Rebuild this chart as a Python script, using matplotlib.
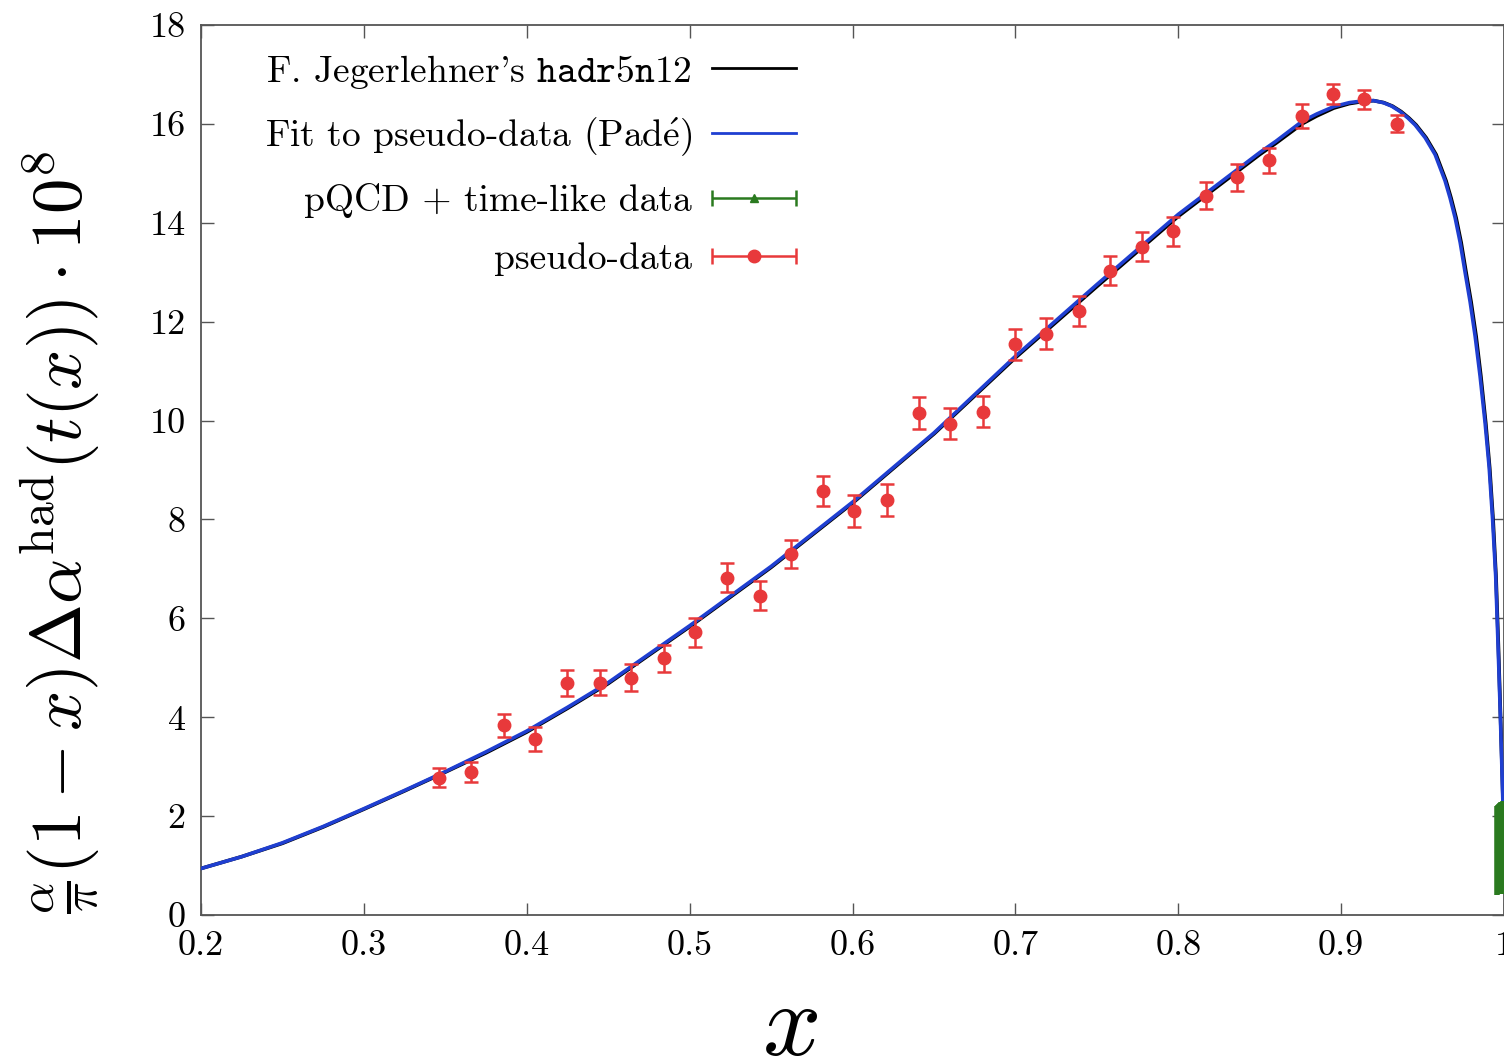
import numpy as np
import matplotlib
matplotlib.use('Agg')
import matplotlib.pyplot as plt
from matplotlib.ticker import FuncFormatter
from matplotlib.lines import Line2D
from matplotlib.collections import LineCollection
from matplotlib.container import ErrorbarContainer
from matplotlib.legend_handler import HandlerErrorbar

################################################
# fonts: computer modern look
plt.rcParams['font.family'] = ['cmr10', 'DejaVu Serif']
plt.rcParams['mathtext.fontset'] = 'cm'
plt.rcParams['axes.formatter.use_mathtext'] = True

RED, BLUE, GREEN, BLACK = '#e8393b', '#1f3fd1', '#2a7a1f', '#000000'
################################################
# pseudo-data
x_data = [0.346, 0.366, 0.386, 0.405, 0.425, 0.445, 0.464, 0.484, 0.503, 0.523,
          0.543, 0.562, 0.582, 0.601, 0.621, 0.641, 0.660, 0.680, 0.700, 0.719,
          0.739, 0.758, 0.778, 0.797, 0.817, 0.836, 0.856, 0.876, 0.895, 0.914,
          0.934]
y_data = [2.78, 2.89, 3.84, 3.56, 4.69, 4.70, 4.80, 5.19, 5.72, 6.82,
          6.46, 7.30, 8.58, 8.17, 8.39, 10.15, 9.94, 10.18, 11.54, 11.76,
          12.21, 13.03, 13.52, 13.83, 14.55, 14.92, 15.26, 16.16, 16.60, 16.50,
          16.00]
y_err = [0.20, 0.20, 0.23, 0.24, 0.26, 0.26, 0.27, 0.28, 0.29, 0.29,
         0.29, 0.29, 0.30, 0.32, 0.32, 0.32, 0.32, 0.31, 0.31, 0.31,
         0.30, 0.29, 0.29, 0.29, 0.27, 0.27, 0.25, 0.24, 0.20, 0.19,
         0.17]

# Pade fit curve
x_fit = [0.200, 0.225, 0.250, 0.275, 0.300, 0.325, 0.350, 0.375, 0.400, 0.425,
         0.450, 0.500, 0.550, 0.600, 0.650, 0.700, 0.750, 0.800, 0.850, 0.860,
         0.876, 0.885, 0.8955, 0.905, 0.9146, 0.920, 0.9258, 0.9310, 0.9362, 0.9410,
         0.9454, 0.9516, 0.9577, 0.9638, 0.9669, 0.9700, 0.9731, 0.9761, 0.9792, 0.9823,
         0.9853, 0.9884, 0.9909, 0.9930, 0.9949, 0.9964, 0.9976, 0.9985, 0.9993, 0.9998]
y_fit = [0.94, 1.18, 1.46, 1.79, 2.15, 2.52, 2.90, 3.30, 3.72, 4.20,
         4.70, 5.85, 7.05, 8.35, 9.75, 11.30, 12.75, 14.17, 15.42, 15.65,
         16.05, 16.20, 16.35, 16.43, 16.47, 16.47, 16.43, 16.36, 16.25, 16.12,
         15.98, 15.72, 15.38, 14.85, 14.50, 14.10, 13.60, 13.00, 12.40, 11.70,
         10.90, 9.95, 9.05, 8.00, 6.85, 5.40, 4.20, 3.20, 2.30, 1.50]

# hadr5n12 curve
x_had = [0.200, 0.225, 0.250, 0.275, 0.300, 0.325, 0.350, 0.375, 0.400, 0.425,
         0.450, 0.500, 0.550, 0.600, 0.650, 0.700, 0.750, 0.800, 0.850, 0.860,
         0.876, 0.885, 0.8955, 0.905, 0.9146, 0.920, 0.9262, 0.9315, 0.9368, 0.9416,
         0.9460, 0.9522, 0.9583, 0.9644, 0.9675, 0.9706, 0.9737, 0.9767, 0.9798, 0.9829,
         0.9858, 0.9888, 0.9912, 0.9933, 0.9951, 0.9966, 0.9977, 0.9986, 0.9994, 0.9998]
y_had = [0.94, 1.18, 1.45, 1.78, 2.14, 2.51, 2.89, 3.28, 3.70, 4.18,
         4.68, 5.83, 7.03, 8.33, 9.73, 11.27, 12.71, 14.13, 15.38, 15.61,
         16.00, 16.16, 16.32, 16.41, 16.46, 16.47, 16.43, 16.36, 16.25, 16.12,
         15.98, 15.72, 15.38, 14.85, 14.50, 14.10, 13.60, 13.00, 12.40, 11.70,
         10.90, 9.95, 9.05, 8.00, 6.85, 5.40, 4.20, 3.20, 2.30, 1.50]

# pQCD + time-like data near x = 1
x_pqcd = [0.9960, 0.9966, 0.9972, 0.9978, 0.9984, 0.9990, 0.9996]
y_pqcd = [1.31, 1.32, 1.33, 1.34, 1.35, 1.36, 1.37]
err_pqcd = [0.90, 0.90, 0.91, 0.92, 0.93, 0.93, 0.94]

x_ticks = [0.2, 0.3, 0.4, 0.5, 0.6, 0.7, 0.8, 0.9, 1.0]
y_ticks = [0, 2, 4, 6, 8, 10, 12, 14, 16, 18]
################################################
fig = plt.figure(figsize=(15.04, 10.61), dpi=100)
ax = fig.add_axes([201/1504, 1 - 915/1061, 1303/1504, 890/1061])

ax.plot(x_had, y_had, color=BLACK, lw=2.6, zorder=2)
ax.plot(x_fit, y_fit, color=BLUE, lw=2.6, zorder=3)
ax.errorbar(x_data, y_data, yerr=y_err, fmt='o', color=RED, ms=9,
            elinewidth=1.8, capsize=4.7, capthick=1.8, zorder=4)
ax.errorbar(x_pqcd, y_pqcd, yerr=err_pqcd, fmt='^', color=GREEN, ms=3,
            elinewidth=4, capsize=0, zorder=5)

ax.set_xlim(0.2, 1.0)
ax.set_ylim(0, 18)
ax.set_xticks(x_ticks)
ax.set_yticks(y_ticks)
fmt = FuncFormatter(lambda v, p: '%g' % v)
ax.xaxis.set_major_formatter(fmt)
ax.yaxis.set_major_formatter(fmt)
ax.tick_params(direction='in', top=True, right=True, length=9, width=1.0,
               color='#555555', labelsize=26, pad=11)
for s in ax.spines.values():
    s.set_color('#555555')
    s.set_linewidth(1.3)

ax.set_xlabel('$x$', fontsize=74)
ax.xaxis.set_label_coords((790 - 201) / 1303, -0.157)
ax.xaxis.label.set_va('baseline')
ax.set_ylabel(r'$\frac{\alpha}{\pi}(1-x)\Delta\alpha^{\rm had}(t(x))\cdot 10^8$', fontsize=51)
ax.yaxis.set_label_coords(-0.108, 0.43)
ax.yaxis.label.set_va('center')

################################################
# legend proxies
h_black = Line2D([], [], color=BLACK, lw=2)
h_blue = Line2D([], [], color=BLUE, lw=2)

def err_proxy(color, marker, ms, label):
    ln = Line2D([], [], color=color, marker=marker, ms=ms, ls='none')
    cap = Line2D([], [], color=color, marker='|', ms=11, mew=1.8)
    bar = LineCollection([], colors=color, linewidths=1.8)
    return ErrorbarContainer((ln, (cap,), (bar,)), has_xerr=True, has_yerr=False, label=label)

h_green = err_proxy(GREEN, '^', 6, 'pQCD + time-like data')
h_red = err_proxy(RED, 'o', 9, 'pseudo-data')

labels = [r"F. Jegerlehner's $\mathtt{hadr5n12}$",
          r'Fit to pseudo-data (Pad$\mathrm{\acute{e}}$)',
          'pQCD + time-like data',
          'pseudo-data']
hl = 2.24
leg = ax.legend([h_black, h_blue, h_green, h_red], labels,
                loc='upper right', bbox_to_anchor=((796 - 201) / 1303, 0.969),
                frameon=False, markerfirst=False, fontsize=27,
                handlelength=hl, handletextpad=0.53, labelspacing=0.66,
                borderpad=0, borderaxespad=0,
                handler_map={ErrorbarContainer: HandlerErrorbar(xerr_size=hl / 2)})

plt.savefig('out.png', dpi=100)
